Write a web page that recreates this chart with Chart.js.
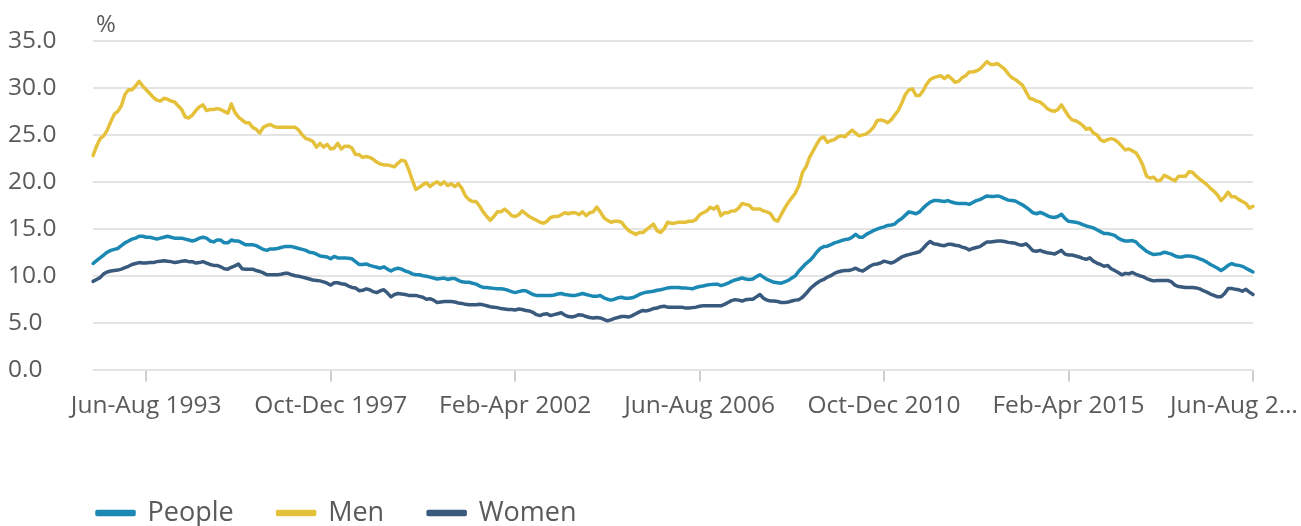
<!DOCTYPE html>
<html>
<head>
<meta charset="utf-8">
<script src="https://cdn.jsdelivr.net/npm/chart.js@4.4.1/dist/chart.umd.min.js"></script>
<style>
  html, body { margin: 0; padding: 0; background: #fff; }
  #wrap { width: 1301px; height: 526px; }
</style>
</head>
<body>
<div id="wrap"><canvas id="chart"></canvas></div>
<script>
// rolling three-month periods, first one is Mar-May 1992
const MESES = ['Jan', 'Feb', 'Mar', 'Apr', 'May', 'Jun', 'Jul', 'Aug', 'Sep', 'Oct', 'Nov', 'Dec'];
const INICIO_ANO = 1992;
const INICIO_MES = 2; // Mar

// labels shown under the axis (every 52 periods, starting at Jun-Aug 1993)
const TICKS_X = ['Jun-Aug 1993', 'Oct-Dec 1997', 'Feb-Apr 2002', 'Jun-Aug 2006', 'Oct-Dec 2010', 'Feb-Apr 2015', 'Jun-Aug 2\u2026'];
const TICKS_Y = [0, 5, 10, 15, 20, 25, 30, 35];

const people = [
  11.3, 11.6, 11.9, 12.2, 12.5, 12.7, 12.8, 12.9, 13.2, 13.5, 13.7, 13.9, 14.0, 14.2, 14.2, 14.1, 14.1, 14.0, 13.9, 14.0,
  14.1, 14.2, 14.1, 14.0, 14.0, 14.0, 13.9, 13.8, 13.7, 13.8, 14.0, 14.1, 14.0, 13.7, 13.6, 13.8, 13.8, 13.5, 13.5, 13.8,
  13.7, 13.7, 13.5, 13.3, 13.3, 13.3, 13.2, 13.0, 12.8, 12.7, 12.85, 12.85, 12.9, 13.0, 13.1, 13.1, 13.1, 13.0, 12.9, 12.8,
  12.7, 12.5, 12.45, 12.3, 12.1, 12.05, 12.0, 11.8, 12.05, 11.9, 11.9, 11.9, 11.85, 11.8, 11.5, 11.2, 11.2, 11.25, 11.1, 11.0,
  10.9, 10.8, 10.95, 10.7, 10.5, 10.7, 10.8, 10.7, 10.5, 10.4, 10.2, 10.1, 10.1, 10.0, 9.95, 9.85, 9.75, 9.65, 9.7, 9.75,
  9.6, 9.7, 9.7, 9.5, 9.35, 9.3, 9.3, 9.2, 9.1, 8.9, 8.75, 8.75, 8.7, 8.65, 8.6, 8.6, 8.55, 8.45, 8.3, 8.2,
  8.3, 8.4, 8.4, 8.2, 8.0, 7.9, 7.9, 7.9, 7.9, 7.9, 7.95, 8.05, 8.1, 8.0, 7.95, 7.9, 7.9, 8.0, 8.1, 8.0,
  7.9, 7.8, 7.8, 7.9, 7.65, 7.5, 7.4, 7.5, 7.65, 7.7, 7.6, 7.6, 7.65, 7.8, 8.0, 8.15, 8.25, 8.3, 8.35, 8.45,
  8.5, 8.6, 8.7, 8.75, 8.75, 8.75, 8.7, 8.7, 8.65, 8.6, 8.75, 8.85, 8.9, 9.0, 9.05, 9.1, 9.1, 8.95, 9.05, 9.2,
  9.4, 9.55, 9.65, 9.75, 9.65, 9.6, 9.65, 9.9, 10.1, 9.85, 9.6, 9.45, 9.3, 9.25, 9.2, 9.35, 9.5, 9.75, 10.0, 10.5,
  10.9, 11.3, 11.6, 12.0, 12.5, 12.9, 13.1, 13.15, 13.3, 13.5, 13.6, 13.75, 13.85, 13.9, 14.1, 14.4, 14.1, 14.1, 14.4, 14.6,
  14.8, 14.95, 15.1, 15.2, 15.35, 15.4, 15.5, 15.85, 16.1, 16.45, 16.8, 16.7, 16.6, 16.8, 17.2, 17.55, 17.85, 18.0, 18.0, 17.95,
  17.9, 18.0, 17.85, 17.75, 17.7, 17.7, 17.7, 17.6, 17.8, 18.0, 18.1, 18.3, 18.5, 18.45, 18.45, 18.5, 18.4, 18.2, 18.05, 18.0,
  17.95, 17.75, 17.55, 17.3, 17.0, 16.7, 16.6, 16.75, 16.6, 16.4, 16.25, 16.2, 16.3, 16.55, 16.1, 15.8, 15.75, 15.7, 15.6, 15.45,
  15.3, 15.2, 15.1, 14.9, 14.7, 14.5, 14.5, 14.4, 14.3, 14.0, 13.8, 13.7, 13.7, 13.75, 13.6, 13.2, 12.9, 12.6, 12.4, 12.25,
  12.3, 12.35, 12.5, 12.4, 12.3, 12.1, 12.0, 12.0, 12.1, 12.1, 12.05, 11.95, 11.8, 11.65, 11.45, 11.2, 11.0, 10.8, 10.55, 10.8,
  11.1, 11.3, 11.15, 11.1, 11.0, 10.8, 10.6, 10.4
];

const men = [
  22.8, 23.8, 24.6, 24.9, 25.5, 26.4, 27.2, 27.5, 28.1, 29.3, 29.8, 29.8, 30.2, 30.7, 30.2, 29.8, 29.4, 29.0, 28.7, 28.6,
  28.9, 28.8, 28.6, 28.5, 28.1, 27.7, 26.9, 26.8, 27.1, 27.6, 28.0, 28.2, 27.6, 27.7, 27.7, 27.8, 27.7, 27.5, 27.3, 28.3,
  27.4, 26.9, 26.6, 26.3, 26.3, 25.8, 25.6, 25.2, 25.8, 26.0, 26.1, 25.9, 25.8, 25.8, 25.8, 25.8, 25.8, 25.8, 25.5, 25.0,
  24.6, 24.5, 24.3, 23.7, 24.1, 23.7, 24.0, 23.5, 23.6, 24.1, 23.5, 23.8, 23.8, 23.6, 22.9, 22.9, 22.6, 22.7, 22.6, 22.4,
  22.1, 21.9, 21.8, 21.8, 21.7, 21.6, 22.0, 22.3, 22.2, 21.3, 20.2, 19.2, 19.4, 19.7, 19.9, 19.5, 19.8, 20.0, 19.7, 20.0,
  19.6, 19.8, 19.5, 19.8, 19.3, 18.5, 18.1, 17.9, 17.9, 17.4, 16.8, 16.3, 15.9, 16.3, 16.8, 16.8, 17.1, 16.8, 16.4, 16.3,
  16.5, 16.9, 16.6, 16.3, 16.1, 15.9, 15.7, 15.6, 15.8, 16.2, 16.3, 16.3, 16.5, 16.7, 16.6, 16.7, 16.7, 16.5, 16.8, 16.4,
  16.7, 16.8, 17.3, 16.8, 16.2, 15.9, 15.7, 15.8, 15.8, 15.7, 15.2, 14.8, 14.6, 14.4, 14.6, 14.6, 14.9, 15.2, 15.5, 14.8,
  14.6, 15.0, 15.7, 15.6, 15.6, 15.7, 15.7, 15.7, 15.8, 15.8, 16.0, 16.5, 16.7, 16.9, 17.3, 17.1, 17.4, 16.4, 16.7, 16.7,
  16.9, 16.9, 17.2, 17.7, 17.6, 17.5, 17.1, 17.1, 17.1, 16.9, 16.8, 16.6, 16.0, 15.8, 16.5, 17.2, 17.8, 18.3, 18.8, 19.6,
  21.0, 21.6, 22.6, 23.3, 24.0, 24.6, 24.8, 24.2, 24.4, 24.5, 24.8, 24.9, 24.8, 25.2, 25.5, 25.2, 24.9, 25.0, 25.1, 25.4,
  25.8, 26.5, 26.6, 26.5, 26.3, 26.6, 27.1, 27.6, 28.4, 29.3, 29.8, 29.9, 29.2, 29.2, 29.7, 30.4, 30.9, 31.1, 31.2, 31.3,
  31.0, 31.3, 31.0, 30.6, 30.7, 31.1, 31.3, 31.7, 31.7, 31.8, 32.0, 32.4, 32.8, 32.5, 32.5, 32.6, 32.3, 32.0, 31.5, 31.1,
  30.9, 30.6, 30.3, 29.6, 28.9, 28.8, 28.6, 28.5, 28.2, 27.8, 27.6, 27.5, 27.7, 28.2, 27.6, 27.0, 26.6, 26.5, 26.3, 26.0,
  25.6, 25.7, 25.2, 25.0, 24.5, 24.3, 24.5, 24.6, 24.5, 24.2, 23.8, 23.4, 23.5, 23.3, 23.1, 22.5, 21.7, 20.6, 20.4, 20.5,
  20.1, 20.2, 20.7, 20.5, 20.3, 20.1, 20.6, 20.6, 20.6, 21.1, 21.0, 20.6, 20.3, 20.0, 19.7, 19.3, 19.0, 18.6, 18.0, 18.4,
  18.9, 18.4, 18.4, 18.1, 17.9, 17.7, 17.2, 17.4
];

const women = [
  9.4, 9.6, 9.8, 10.2, 10.4, 10.5, 10.55, 10.6, 10.7, 10.85, 11.0, 11.2, 11.3, 11.4, 11.35, 11.35, 11.4, 11.4, 11.5, 11.55,
  11.6, 11.55, 11.5, 11.4, 11.45, 11.55, 11.6, 11.5, 11.5, 11.35, 11.4, 11.5, 11.35, 11.2, 11.1, 11.1, 10.95, 10.75, 10.7, 10.9,
  11.05, 11.25, 10.75, 10.7, 10.7, 10.7, 10.55, 10.45, 10.3, 10.1, 10.1, 10.1, 10.1, 10.15, 10.25, 10.25, 10.1, 10.0, 9.95, 9.85,
  9.75, 9.65, 9.55, 9.5, 9.45, 9.35, 9.2, 9.0, 9.25, 9.25, 9.15, 9.1, 8.9, 8.75, 8.7, 8.4, 8.45, 8.6, 8.5, 8.3,
  8.2, 8.4, 8.5, 8.15, 7.75, 8.0, 8.1, 8.05, 8.0, 7.9, 7.9, 7.9, 7.8, 7.7, 7.5, 7.55, 7.4, 7.15, 7.2, 7.25,
  7.25, 7.25, 7.2, 7.1, 7.05, 6.95, 6.9, 6.9, 6.9, 6.95, 6.9, 6.8, 6.7, 6.65, 6.6, 6.5, 6.45, 6.4, 6.4, 6.35,
  6.45, 6.4, 6.3, 6.25, 6.1, 5.85, 5.75, 5.9, 5.95, 5.75, 5.85, 5.95, 6.05, 5.8, 5.65, 5.6, 5.7, 5.85, 5.8, 5.65,
  5.55, 5.5, 5.55, 5.5, 5.35, 5.2, 5.3, 5.45, 5.55, 5.65, 5.65, 5.6, 5.75, 5.95, 6.15, 6.3, 6.25, 6.35, 6.5, 6.55,
  6.7, 6.75, 6.65, 6.65, 6.65, 6.65, 6.65, 6.55, 6.55, 6.6, 6.65, 6.75, 6.8, 6.8, 6.8, 6.8, 6.8, 6.8, 6.95, 7.15,
  7.35, 7.45, 7.4, 7.3, 7.45, 7.5, 7.5, 7.75, 8.0, 7.6, 7.4, 7.3, 7.3, 7.25, 7.15, 7.15, 7.2, 7.3, 7.4, 7.45,
  7.7, 8.1, 8.55, 8.9, 9.2, 9.45, 9.6, 9.85, 10.0, 10.25, 10.4, 10.5, 10.55, 10.55, 10.65, 10.8, 10.6, 10.5, 10.75, 11.0,
  11.2, 11.25, 11.35, 11.55, 11.45, 11.35, 11.5, 11.75, 12.0, 12.15, 12.25, 12.35, 12.45, 12.55, 12.9, 13.35, 13.65, 13.4, 13.35, 13.25,
  13.2, 13.35, 13.35, 13.25, 13.2, 13.05, 12.95, 12.75, 12.9, 13.0, 13.1, 13.35, 13.6, 13.6, 13.65, 13.7, 13.7, 13.65, 13.55, 13.5,
  13.45, 13.3, 13.25, 13.4, 13.05, 12.65, 12.6, 12.7, 12.55, 12.45, 12.4, 12.3, 12.5, 12.7, 12.3, 12.2, 12.2, 12.1, 12.0, 11.85,
  11.75, 11.9, 11.55, 11.35, 11.2, 11.0, 11.1, 10.75, 10.55, 10.35, 10.1, 10.25, 10.2, 10.35, 10.15, 10.0, 9.9, 9.7, 9.55, 9.45,
  9.5, 9.5, 9.5, 9.5, 9.35, 9.0, 8.85, 8.8, 8.75, 8.75, 8.75, 8.7, 8.6, 8.4, 8.25, 8.05, 7.9, 7.75, 7.75, 8.1,
  8.65, 8.65, 8.55, 8.5, 8.35, 8.55, 8.25, 8.0
];

// nomes dos periodos: "Mar-May 1992", "Apr-Jun 1992", ...
const periodos = people.map((_, i) => {
    const m = INICIO_MES + i;
    const fim = m + 2;
    return MESES[m % 12] + '-' + MESES[fim % 12] + ' ' + (INICIO_ANO + Math.floor(fim / 12));
});

const PRIMEIRO_TICK = 15;
const PASSO_TICK = 52;
const PAD_LEGENDA = 44;
const FONTE_LEGENDA = 27;

const CINZA_TEXTO = '#5a5a5a';
const FONTE = "'Open Sans', 'Noto Sans', sans-serif";

// "%" above the y axis + putting the legend where it sits in the original
const extras = {
    id: 'extras',
    afterLayout(chart) {
        const lg = chart.legend;
        const dy = 513 - FONTE_LEGENDA / 2 - PAD_LEGENDA - lg.top;
        lg.left = 97 - PAD_LEGENDA;
        lg.top += dy;
        lg.bottom += dy;
    },
    afterDraw(chart) {
        const ctx = chart.ctx;
        ctx.save();
        ctx.fillStyle = CINZA_TEXTO;
        ctx.font = "24px " + FONTE;
        ctx.textBaseline = 'alphabetic';
        ctx.fillText('%', chart.chartArea.left + 3, chart.chartArea.top - 9);
        ctx.restore();
    }
};

new Chart(document.getElementById('chart'), {
    type: 'line',
    data: {
        labels: periodos,
        datasets: [
            { label: 'People', data: people, borderColor: '#1b89b4', backgroundColor: '#1b89b4' },
            { label: 'Men', data: men, borderColor: '#e5c13b', backgroundColor: '#e5c13b' },
            { label: 'Women', data: women, borderColor: '#395a7d', backgroundColor: '#395a7d' }
        ]
    },
    options: {
        responsive: true,
        maintainAspectRatio: false,
        animation: false,
        layout: { padding: { left: 8, right: 48, top: 41, bottom: 14 } },
        elements: {
            line: { borderWidth: 3.5, tension: 0, borderJoinStyle: 'round', borderCapStyle: 'round' },
            point: { radius: 0, hoverRadius: 0 }
        },
        plugins: {
            legend: {
                position: 'bottom',
                align: 'start',
                labels: {
                    boxWidth: 37,
                    boxHeight: 3,
                    padding: PAD_LEGENDA,
                    color: CINZA_TEXTO,
                    font: { family: FONTE, size: FONTE_LEGENDA }
                }
            },
            tooltip: { enabled: false }
        },
        scales: {
            x: {
                offset: false,
                border: { display: false },
                grid: { drawOnChartArea: false, drawTicks: true, tickLength: 12, color: '#cfcfcf', lineWidth: 2 },
                ticks: {
                    autoSkip: false,
                    maxRotation: 0,
                    minRotation: 0,
                    padding: 10,
                    color: CINZA_TEXTO,
                    font: { family: FONTE, size: 24.5 },
                    callback: (v, i) => {
                        if (i < PRIMEIRO_TICK || (i - PRIMEIRO_TICK) % PASSO_TICK !== 0) return null;
                        const k = (i - PRIMEIRO_TICK) / PASSO_TICK;
                        // the last one is cut at the edge in the original
                        return k === TICKS_X.length - 1 ? TICKS_X[k] + '\u00a0\u00a0\u00a0\u00a0\u00a0\u00a0' : TICKS_X[k];
                    }
                },
                afterFit: (s) => { s.paddingLeft = 0; s.paddingRight = 0; }
            },
            y: {
                min: TICKS_Y[0],
                max: TICKS_Y[TICKS_Y.length - 1],
                border: { display: false },
                grid: { color: '#e4e4e4', lineWidth: 2, drawTicks: false },
                afterBuildTicks: (s) => { s.ticks = TICKS_Y.map(v => ({ value: v })); },
                afterFit: (s) => { s.width = 85; },
                ticks: {
                    crossAlign: 'far',
                    padding: 0,
                    color: CINZA_TEXTO,
                    font: { family: FONTE, size: 24.5 },
                    callback: (v) => v.toFixed(1)
                }
            }
        }
    },
    plugins: [extras]
});
</script>
</body>
</html>
